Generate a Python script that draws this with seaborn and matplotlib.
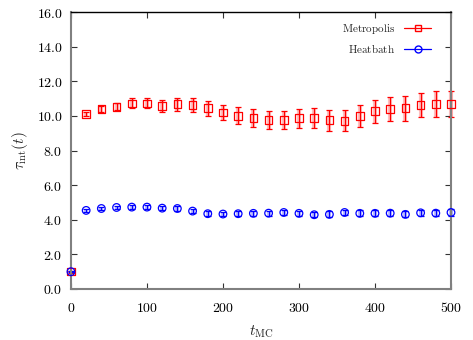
import numpy as np
import matplotlib
matplotlib.use('Agg')
import matplotlib.pyplot as plt
import seaborn as sns
from matplotlib.lines import Line2D
from matplotlib.ticker import FuncFormatter

# Data
t_mc = [0, 20, 40, 60, 80, 100, 120, 140, 160, 180, 200, 220, 240,
        260, 280, 300, 320, 340, 360, 380, 400, 420, 440, 460, 480, 500]
metro = [1.0, 10.11, 10.4, 10.53, 10.72, 10.72, 10.57, 10.67, 10.63, 10.44, 10.19, 10.0, 9.87,
         9.77, 9.77, 9.87, 9.87, 9.75, 9.72, 10.0, 10.27, 10.38, 10.44, 10.63, 10.67, 10.67]
metro_err = [0.05, 0.1, 0.15, 0.2, 0.29, 0.29, 0.35, 0.39, 0.38, 0.42, 0.45, 0.49, 0.5,
             0.52, 0.52, 0.55, 0.57, 0.6, 0.62, 0.63, 0.67, 0.69, 0.71, 0.71, 0.75, 0.75]
heat = [1.0, 4.54, 4.65, 4.71, 4.73, 4.73, 4.67, 4.65, 4.5, 4.35, 4.33, 4.35, 4.37,
        4.38, 4.42, 4.37, 4.29, 4.31, 4.42, 4.37, 4.37, 4.38, 4.31, 4.4, 4.38, 4.42]
heat_err = [0.03, 0.08, 0.09, 0.1, 0.11, 0.11, 0.11, 0.12, 0.12, 0.13, 0.14, 0.14, 0.15,
            0.15, 0.16, 0.16, 0.16, 0.17, 0.17, 0.17, 0.18, 0.18, 0.18, 0.19, 0.19, 0.2]

sns.set_style('ticks')
plt.rcParams['mathtext.fontset'] = 'cm'
plt.rcParams['font.family'] = ['DejaVu Serif']

fig = plt.figure(figsize=(4.73, 3.40), dpi=100)
ax = fig.add_axes([0.150, 0.15, 0.8035, 0.8147])

red = '#ff0000'
blue = '#0000ff'

# light halo behind bars, like the reference
for y, e, c in [(metro, metro_err, red), (heat, heat_err, blue)]:
    ax.errorbar(t_mc, y, yerr=e, fmt='none', ecolor=c, alpha=0.25, elinewidth=3, capsize=0, clip_on=False)
ax.errorbar(t_mc, metro, yerr=metro_err, fmt='none', ecolor=red, elinewidth=0.9, capsize=2, capthick=0.9, clip_on=False)
ax.errorbar(t_mc, heat, yerr=heat_err, fmt='none', ecolor=blue, elinewidth=0.9, capsize=2, capthick=0.9, clip_on=False)

sns.scatterplot(x=t_mc, y=metro, marker='s', s=30, facecolors='none', edgecolor=red, linewidth=0.9, ax=ax, clip_on=False, zorder=3)
sns.scatterplot(x=t_mc, y=heat, marker='o', s=30, facecolors='none', edgecolor=blue, linewidth=0.9, ax=ax, clip_on=False, zorder=3)

ax.set_xlim(0, 500)
ax.set_ylim(0, 16)
ax.set_xticks([0, 100, 200, 300, 400, 500])
ax.set_yticks(np.arange(0, 17, 2))
ax.xaxis.set_major_formatter(FuncFormatter(lambda v, p: r'$%d$' % v))
ax.yaxis.set_major_formatter(FuncFormatter(lambda v, p: r'$%.1f$' % v))
ax.tick_params(direction='in', length=4, width=0.8, top=True, right=True, labelsize=10, colors='#333333',
               labelcolor='black')
ax.tick_params(axis='x', pad=9)
ax.tick_params(axis='y', pad=6)

for side in ['left', 'right', 'bottom']:
    ax.spines[side].set_color('#808080')
    ax.spines[side].set_linewidth(1.5)
ax.spines['top'].set_color('black')
ax.spines['top'].set_linewidth(1.0)

ax.set_xlabel(r'$t_{\mathrm{MC}}$', fontsize=11, labelpad=6)
ax.set_ylabel(r'$\tau_{\mathrm{int}}(t)$', fontsize=11, labelpad=5)

handles = [
    Line2D([0], [0], color=red, marker='s', markerfacecolor='none', markersize=5, linewidth=0.9),
    Line2D([0], [0], color=blue, marker='o', markerfacecolor='none', markersize=5, linewidth=0.9),
]
ax.legend(handles, [r'$\mathrm{Metropolis}$', r'$\mathrm{Heatbath}$'], loc='upper right',
          frameon=False, markerfirst=False, fontsize=8, handlelength=2.4,
          bbox_to_anchor=(0.947, 0.965), borderpad=0, borderaxespad=0,
          labelspacing=0.55, handletextpad=0.8)

fig.savefig('out.png', dpi=100)
